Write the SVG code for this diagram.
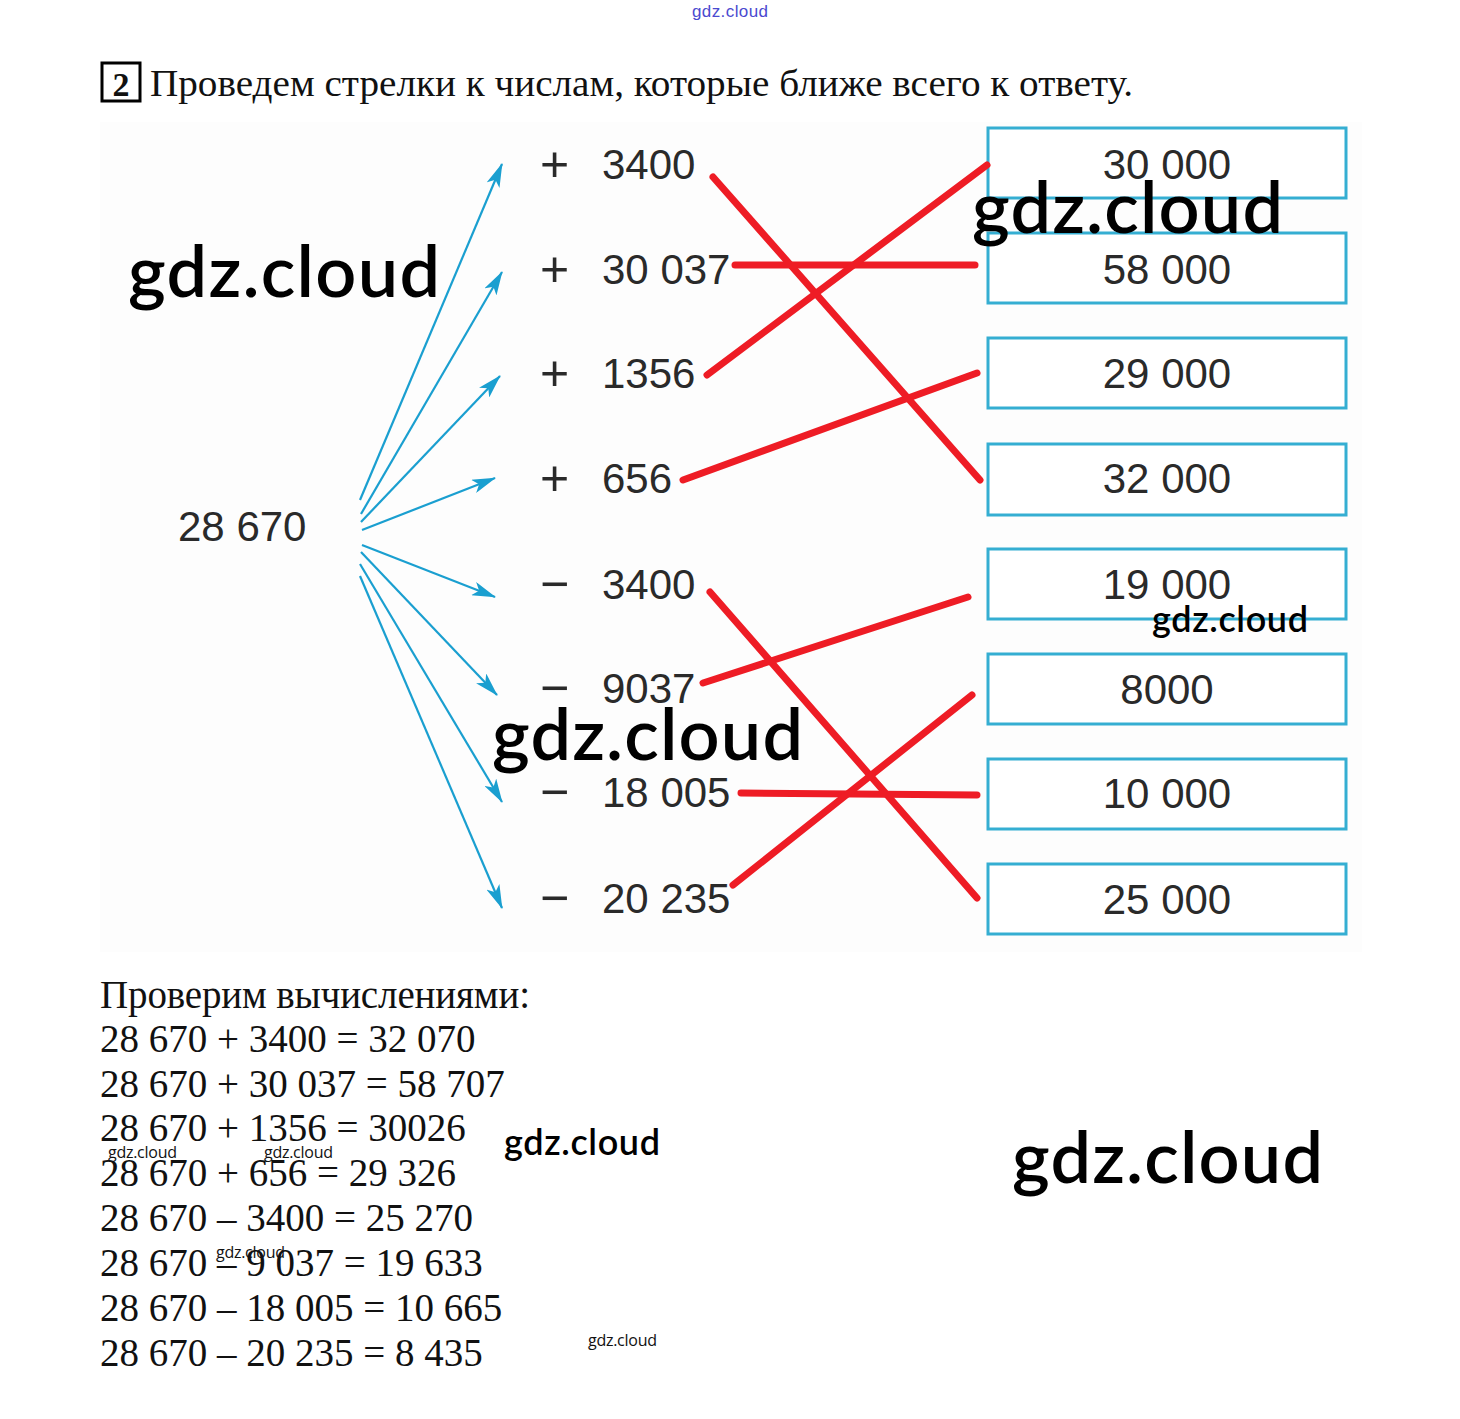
<svg xmlns="http://www.w3.org/2000/svg" width="1460" height="1419" viewBox="0 0 1460 1419">
<style>
.serif{font-family:"Liberation Serif","Times New Roman",serif;fill:#111}
.num{font-family:"Liberation Sans",Arial,sans-serif;font-size:42px;fill:#2a2a2a}
.sign{font-family:"Liberation Sans",Arial,sans-serif;font-size:50px;fill:#2a2a2a}
.box rect{fill:#fff;stroke:#35aed2;stroke-width:3}
.box text{font-family:"Liberation Sans",Arial,sans-serif;font-size:42px;fill:#2a2a2a;text-anchor:middle}
.arrow{stroke:#1a9fd0;stroke-width:2.2;fill:none;marker-end:url(#ah)}
.red{stroke:#ee1c25;stroke-width:7;stroke-linecap:round;fill:none}
.wm{font-family:Lato,"Open Sans",sans-serif;font-weight:600;fill:#000}
.wms{font-family:"Open Sans",Lato,sans-serif;fill:#111}
</style>
<defs>
<marker id="ah" markerUnits="userSpaceOnUse" viewBox="0 0 24 14" refX="23" refY="7" markerWidth="24" markerHeight="14" orient="auto">
<path d="M0,0 L24,7 L0,14 L6,7 Z" fill="#1a9fd0"/>
</marker>
</defs>
<rect x="0" y="0" width="1460" height="1419" fill="#fff"/>
<rect x="100" y="122" width="1262" height="830" fill="#fdfdfd"/>
<text x="692" y="17" font-family="'Liberation Sans',Arial,sans-serif" font-size="17" fill="#4a4ad0" textLength="76">gdz.cloud</text>
<g id="header">
<rect x="102" y="63" width="38" height="38" fill="none" stroke="#000" stroke-width="3"/>
<text x="121" y="96" class="serif" font-size="34" font-weight="bold" text-anchor="middle">2</text>
<text x="150" y="96" class="serif" font-size="37" textLength="983" lengthAdjust="spacingAndGlyphs">Проведем стрелки к числам, которые ближе всего к ответу.</text>
</g>
<g id="start"><text x="178" y="541" class="num">28 670</text></g>
<g id="ops">
<g id="op1"><text x="540" y="181" class="sign">+</text><text x="602" y="179" class="num">3400</text></g>
<g id="op2"><text x="540" y="286" class="sign">+</text><text x="602" y="284" class="num">30 037</text></g>
<g id="op3"><text x="540" y="390" class="sign">+</text><text x="602" y="388" class="num">1356</text></g>
<g id="op4"><text x="540" y="495" class="sign">+</text><text x="602" y="493" class="num">656</text></g>
<g id="op5"><text x="540" y="601" class="sign">−</text><text x="602" y="599" class="num">3400</text></g>
<g id="op6"><text x="540" y="705" class="sign">−</text><text x="602" y="703" class="num">9037</text></g>
<g id="op7"><text x="540" y="809" class="sign">−</text><text x="602" y="807" class="num">18 005</text></g>
<g id="op8"><text x="540" y="915" class="sign">−</text><text x="602" y="913" class="num">20 235</text></g>
</g>
<g id="answers">
<g id="b1" class="box"><rect x="988" y="128" width="358" height="70"/><text x="1167" y="179">30 000</text></g>
<g id="b2" class="box"><rect x="988" y="233" width="358" height="70"/><text x="1167" y="284">58 000</text></g>
<g id="b3" class="box"><rect x="988" y="338" width="358" height="70"/><text x="1167" y="388">29 000</text></g>
<g id="b4" class="box"><rect x="988" y="444" width="358" height="71"/><text x="1167" y="493">32 000</text></g>
<g id="b5" class="box"><rect x="988" y="549" width="358" height="70"/><text x="1167" y="599">19 000</text></g>
<g id="b6" class="box"><rect x="988" y="654" width="358" height="70"/><text x="1167" y="704">8000</text></g>
<g id="b7" class="box"><rect x="988" y="759" width="358" height="70"/><text x="1167" y="808">10 000</text></g>
<g id="b8" class="box"><rect x="988" y="864" width="358" height="70"/><text x="1167" y="914">25 000</text></g>
</g>
<g id="connectors">
<line class="arrow" x1="360" y1="500" x2="502" y2="164"/>
<line class="arrow" x1="361" y1="514" x2="502" y2="272"/>
<line class="arrow" x1="361" y1="522" x2="500" y2="376"/>
<line class="arrow" x1="362" y1="530" x2="495" y2="478"/>
<line class="arrow" x1="362" y1="545" x2="495" y2="597"/>
<line class="arrow" x1="361" y1="552" x2="497" y2="695"/>
<line class="arrow" x1="360" y1="564" x2="502" y2="802"/>
<line class="arrow" x1="360" y1="576" x2="502" y2="908"/>
<line class="red" x1="713" y1="177" x2="980" y2="480"/>
<line class="red" x1="735" y1="265" x2="975" y2="265"/>
<line class="red" x1="707" y1="375" x2="987" y2="165"/>
<line class="red" x1="683" y1="480" x2="977" y2="373"/>
<line class="red" x1="710" y1="592" x2="977" y2="898"/>
<line class="red" x1="703" y1="683" x2="968" y2="597"/>
<line class="red" x1="741" y1="793" x2="977" y2="795"/>
<line class="red" x1="733" y1="885" x2="972" y2="695"/>
</g>
<g id="check" class="serif" font-size="39">
<text x="100" y="1008" textLength="430">Проверим вычислениями:</text>
<text x="100" y="1052">28 670 + 3400 = 32 070</text>
<text x="100" y="1097">28 670 + 30 037 = 58 707</text>
<text x="100" y="1141">28 670 + 1356 = 30026</text>
<text x="100" y="1186">28 670 + 656 = 29 326</text>
<text x="100" y="1231">28 670 – 3400 = 25 270</text>
<text x="100" y="1276">28 670 – 9 037 = 19 633</text>
<text x="100" y="1321">28 670 – 18 005 = 10 665</text>
<text x="100" y="1366">28 670 – 20 235 = 8 435</text>
</g>
<g id="watermarks">
<text class="wm" x="128" y="297" font-size="72" textLength="312">gdz.cloud</text>
<text class="wm" x="972" y="233" font-size="72" textLength="311">gdz.cloud</text>
<text class="wm" x="492" y="760" font-size="72" textLength="311">gdz.cloud</text>
<text class="wm" x="1012" y="1183" font-size="72" textLength="311">gdz.cloud</text>
<text class="wm" x="1152" y="632" font-size="36" textLength="156">gdz.cloud</text>
<text class="wm" x="504" y="1155" font-size="36" textLength="156">gdz.cloud</text>
<text class="wms" x="108" y="1158" font-size="16" textLength="69">gdz.cloud</text>
<text class="wms" x="264" y="1158" font-size="16" textLength="69">gdz.cloud</text>
<text class="wms" x="216" y="1258" font-size="16" textLength="69">gdz.cloud</text>
<text class="wms" x="588" y="1346" font-size="16" textLength="69">gdz.cloud</text>
</g>
</svg>
